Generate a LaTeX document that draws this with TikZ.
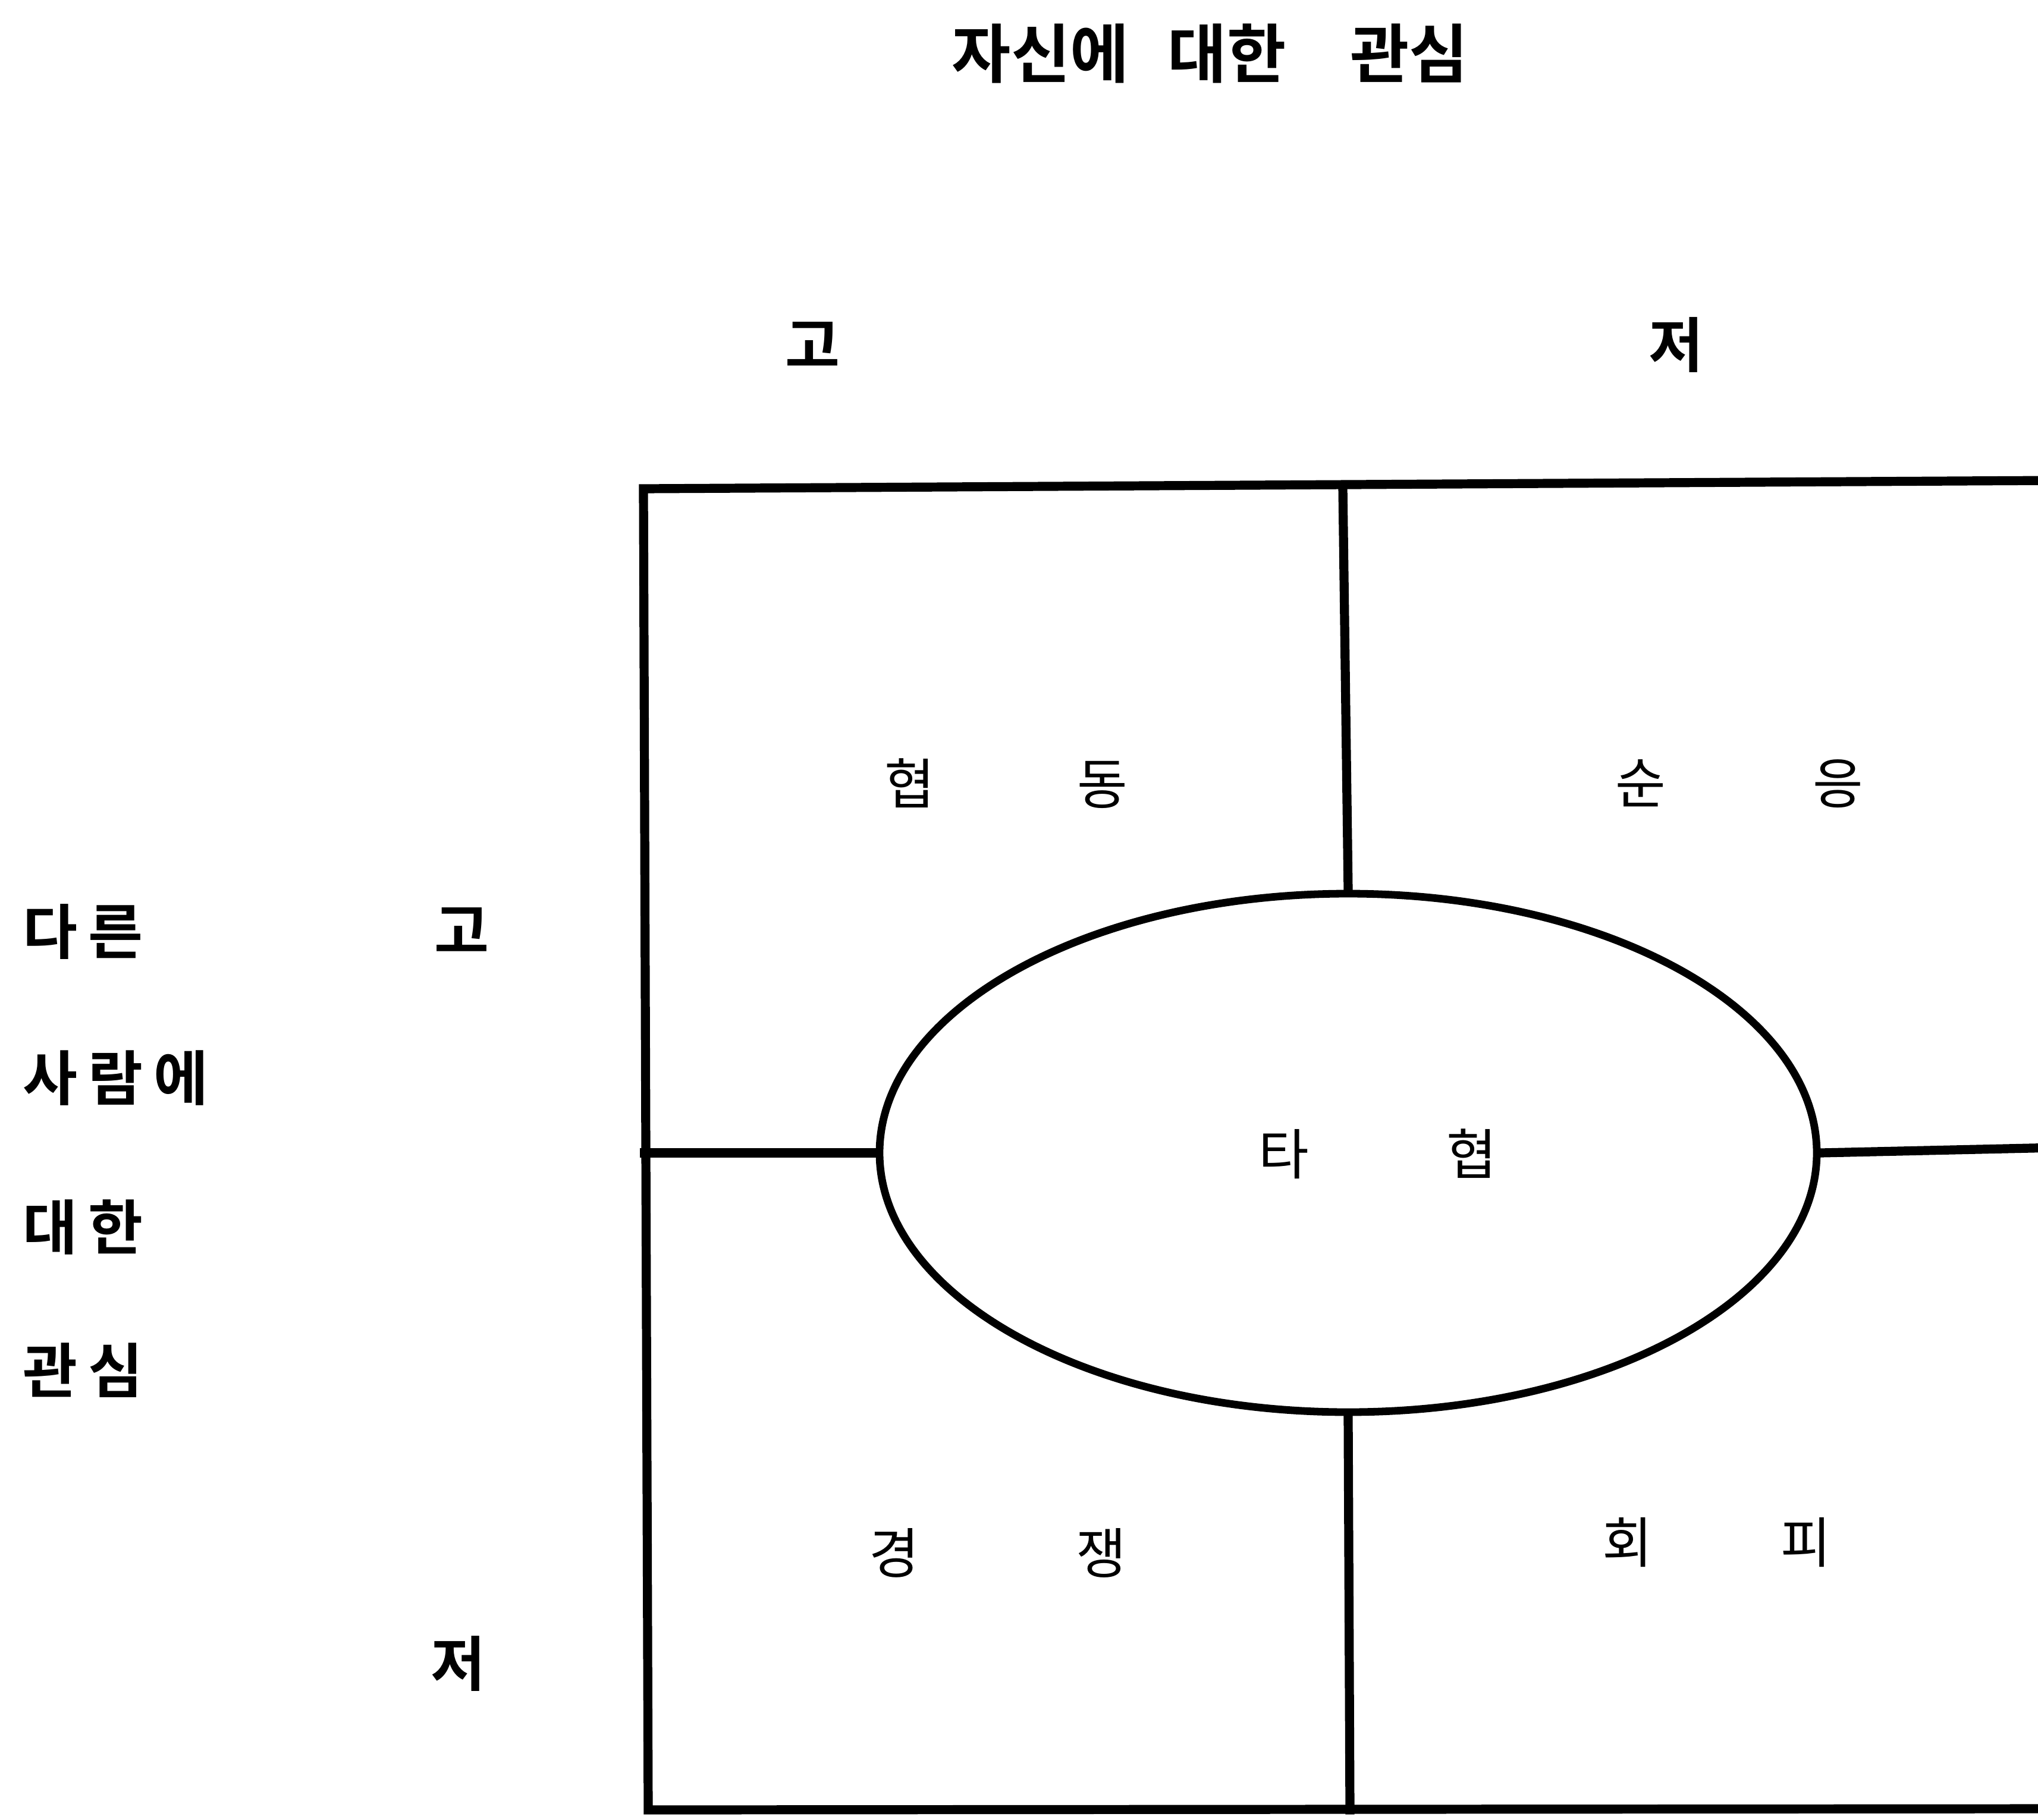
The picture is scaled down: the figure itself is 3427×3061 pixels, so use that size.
\documentclass[tikz,border=0pt]{standalone}
\usepackage{fontspec}
\newfontfamily\kr{Noto Sans CJK KR}
\newfontfamily\krb{Noto Sans CJK KR Bold}
\newfontfamily\krbs[LetterSpace=18]{Noto Sans CJK KR Bold}
\usetikzlibrary{shapes.geometric}
\tikzset{
  frame/.style={line width=3.8pt, line cap=rect},
  heading/.style={font=\krb\fontsize{27}{31}\selectfont, inner sep=0pt},
  side/.style={font=\krbs\fontsize{25}{30}\selectfont, inner sep=0pt},
  axis/.style={font=\krb\fontsize{25}{30}\selectfont, inner sep=0pt},
  cell/.style={font=\kr\fontsize{23}{27}\selectfont, inner sep=0pt},
  oval/.style={ellipse, draw, line width=3.2pt, fill=white, minimum width=394pt, minimum height=218pt, inner sep=0pt}
}
\begin{document}
\begin{tikzpicture}[x=0.25pt,y=-0.25pt]
\useasboundingbox (0,0) rectangle (3427,3061);
\clip (0,0) rectangle (3427,3061);
% title and axis labels
\node[heading] (title) at (2035,90) {자신에\hspace{0.6em}대한\hspace{1.0em}관심};
\node[axis] (hi1) at (1366,580) {고};
\node[axis] (lo1) at (2818,580) {저};
\node[side, anchor=west] (l1) at (38,1567) {다른};
\node[side, anchor=west] (l2) at (38,1813) {사람에};
\node[side, anchor=west] (l3) at (38,2064) {대한};
\node[side, anchor=west] (l4) at (38,2305) {관심};
\node[axis] (hi2) at (776,1565) {고};
\node[axis] (lo2) at (770,2798) {저};
% frame corners
\coordinate (tl) at (1082,822);
\coordinate (tr) at (3460,808);
\coordinate (bl) at (1090,3044);
\coordinate (br) at (3460,3042);
\coordinate (tm) at (2258,820);
\coordinate (bm) at (2270,3044);
\coordinate (ml) at (1084,1939);
\coordinate (mr) at (3460,1930);
\draw[frame] (tr) -- (tl) -- (bl) -- (br);
% ellipse in the middle
\node[oval] (mid) at (2267,1939) {};
\draw[frame] (tm) -- (mid.north);
\draw[frame] (mid.south) -- (bm);
\draw[frame] (ml) -- (mid.west);
\draw[frame] (mid.east) -- (mr);
% cell labels
\node[cell] (c1) at (1692,1318) {협\hspace{60pt}동};
\node[cell] (c2) at (2925,1318) {순\hspace{62pt}응};
\node[cell] (c3) at (2317,1941) {타\hspace{58pt}협};
\node[cell] (c4) at (1678,2612) {경\hspace{66pt}쟁};
\node[cell] (c5) at (2887,2594) {회\hspace{54pt}피};
\end{tikzpicture}
\end{document}
